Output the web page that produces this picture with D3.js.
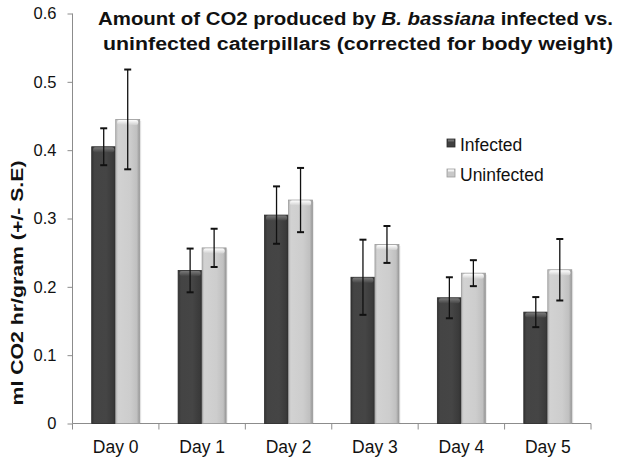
<!DOCTYPE html>
<html><head><meta charset="utf-8">
<script src="https://cdn.jsdelivr.net/npm/d3@7/dist/d3.min.js"></script>
<style>body{margin:0;background:#fff;} svg{display:block;font-family:"Liberation Sans",Arial,sans-serif;}</style>
</head><body>
<script>
const days = ["Day 0","Day 1","Day 2","Day 3","Day 4","Day 5"];
const seriesNames = ["Infected","Uninfected"];
const infected = [0.405, 0.224, 0.305, 0.214, 0.184, 0.163];
const infectedErr = [0.027, 0.032, 0.042, 0.055, 0.030, 0.022];
const uninfected = [0.445, 0.257, 0.327, 0.262, 0.220, 0.225];
const uninfectedErr = [0.073, 0.028, 0.047, 0.027, 0.019, 0.045];
const yTicks = [0, 0.1, 0.2, 0.3, 0.4, 0.5, 0.6];

const W = 620, H = 461;
const svg = d3.select("body").append("svg").attr("width", W).attr("height", H);
const defs = svg.append("defs");

const gd = defs.append("linearGradient").attr("id","gDark").attr("x1","0").attr("x2","1").attr("y1","0").attr("y2","0");
[["0%","#353535"],["12%","#444444"],["60%","#454545"],["90%","#3a3a3a"],["100%","#2c2c2c"]].forEach(s=>gd.append("stop").attr("offset",s[0]).attr("stop-color",s[1]));
const gl = defs.append("linearGradient").attr("id","gLight").attr("x1","0").attr("x2","1").attr("y1","0").attr("y2","0");
[["0%","#b8b8b8"],["10%","#d2d2d2"],["60%","#cdcdcd"],["88%","#c0c0c0"],["100%","#969696"]].forEach(s=>gl.append("stop").attr("offset",s[0]).attr("stop-color",s[1]));
const gdt = defs.append("linearGradient").attr("id","gDarkTop").attr("x1","0").attr("x2","0").attr("y1","0").attr("y2","1");
[["0%","#7a7a7a"],["100%","#474747"]].forEach(s=>gdt.append("stop").attr("offset",s[0]).attr("stop-color",s[1]));
const glt = defs.append("linearGradient").attr("id","gLightTop").attr("x1","0").attr("x2","0").attr("y1","0").attr("y2","1");
[["0%","#ffffff"],["100%","#d0d0d0"]].forEach(s=>glt.append("stop").attr("offset",s[0]).attr("stop-color",s[1]));

const x0 = 72.5, x1 = 591, yTop = 13.5, yBot = 423.5;
const x = d3.scaleBand().domain(days).range([x0, x1]).paddingInner(0).paddingOuter(0);
const xs = d3.scaleBand().domain(seriesNames).range([0, x.bandwidth()]).paddingInner(0).paddingOuter(0.8);
const y = d3.scaleLinear().domain([0, 0.6]).range([yBot, yTop]);

// y axis
const yAxis = svg.append("g").attr("transform", `translate(${x0},0)`)
  .call(d3.axisLeft(y).tickValues(yTicks).tickSize(5).tickPadding(11).tickFormat(d => d === 0 ? "0" : d3.format(".1f")(d)));
yAxis.select(".domain").attr("stroke","#8c8c8c").attr("d", `M0,${yTop}V${yBot}`);
yAxis.selectAll(".tick line").attr("stroke","#8c8c8c");
yAxis.selectAll(".tick text").attr("font-size", 16.5).attr("fill","#111").attr("font-family","Liberation Sans, Arial, sans-serif");

// x axis
const xAxis = svg.append("g").attr("transform", `translate(0,${yBot})`);
xAxis.append("line").attr("x1", x0).attr("x2", x1).attr("stroke","#8c8c8c");
xAxis.selectAll(".xt").data(days.concat(["end"])).enter().append("line")
  .attr("x1", (d,i)=> i < days.length ? x(d) : x1).attr("x2", (d,i)=> i < days.length ? x(d) : x1)
  .attr("y1", 0).attr("y2", 6).attr("stroke","#8c8c8c");
xAxis.selectAll(".xl").data(days).enter().append("text")
  .attr("x", d => x(d) + x.bandwidth()/2).attr("y", 29)
  .attr("text-anchor","middle").attr("font-size", 17.5).attr("fill","#111").text(d => d);

// bars
const groups = days.map((d,i) => [
  {day:d, s:"Infected", v:infected[i], e:infectedErr[i]},
  {day:d, s:"Uninfected", v:uninfected[i], e:uninfectedErr[i]}
]).flat();

const bars = svg.append("g");
groups.forEach(g => {
  const bx = x(g.day) + xs(g.s), bw = xs.bandwidth(), by = y(g.v), bh = yBot - y(g.v);
  const dark = g.s === "Infected";
  bars.append("rect").attr("x", bx+1.5).attr("y", by+1.5).attr("width", bw).attr("height", bh-1.5)
    .attr("fill", "#000").attr("opacity", 0.08);
  bars.append("rect").attr("x", bx).attr("y", by).attr("width", bw).attr("height", bh)
    .attr("fill", dark ? "url(#gDark)" : "url(#gLight)")
    .attr("stroke", dark ? "#2a2a2a" : "#9c9c9c").attr("stroke-width", 0.8);
  bars.append("rect").attr("x", bx+1.5).attr("y", by+0.5).attr("width", bw-3).attr("height", 5).attr("rx", 2)
    .attr("fill", dark ? "url(#gDarkTop)" : "url(#gLightTop)");
});

// error bars
const eb = svg.append("g").attr("stroke","#111").attr("stroke-width", 1.3);
groups.forEach(g => {
  const cx = x(g.day) + xs(g.s) + xs.bandwidth()/2;
  const t = y(g.v + g.e), b = y(g.v - g.e);
  eb.append("line").attr("x1", cx).attr("x2", cx).attr("y1", t).attr("y2", b);
  eb.append("line").attr("x1", cx-3.5).attr("x2", cx+3.5).attr("y1", t).attr("y2", t).attr("stroke-width", 2);
  eb.append("line").attr("x1", cx-3.5).attr("x2", cx+3.5).attr("y1", b).attr("y2", b).attr("stroke-width", 2);
});

// legend
const leg = svg.append("g");
seriesNames.forEach((s,i) => {
  const ly = 139 + i*30;
  leg.append("rect").attr("x", 447).attr("y", ly).attr("width", 8).attr("height", 8)
    .attr("fill", i === 0 ? "#404040" : "#c8c8c8").attr("stroke", i === 0 ? "#2a2a2a" : "#9c9c9c").attr("stroke-width", 0.8);
  leg.append("rect").attr("x", 448).attr("y", ly+0.5).attr("width", 6).attr("height", 2)
    .attr("fill", i === 0 ? "#707070" : "#f4f4f4");
  leg.append("text").attr("x", 460).attr("y", ly + 11.5).attr("font-size", 17.5).attr("fill","#111").text(s);
});

// title
const t1 = svg.append("text").attr("x", 98).attr("y", 25).attr("font-weight","bold").attr("font-size", 18).attr("fill","#111")
  .attr("textLength", 515).attr("lengthAdjust","spacingAndGlyphs");
t1.append("tspan").text("Amount of CO2 produced by ");
t1.append("tspan").attr("font-style","italic").text("B. bassiana");
t1.append("tspan").text(" infected vs.");
svg.append("text").attr("x", 103).attr("y", 49.5).attr("font-weight","bold").attr("font-size", 18).attr("fill","#111")
  .attr("textLength", 510).attr("lengthAdjust","spacingAndGlyphs")
  .text("uninfected caterpillars (corrected for body weight)");

// y label
svg.append("text").attr("transform", "translate(23,283) rotate(-90)").attr("text-anchor","middle")
  .attr("font-weight","bold").attr("font-size", 16.5).attr("fill","#111")
  .attr("textLength", 245).attr("lengthAdjust","spacingAndGlyphs").text("ml CO2 hr/gram (+/- S.E)");
</script>
</body></html>
